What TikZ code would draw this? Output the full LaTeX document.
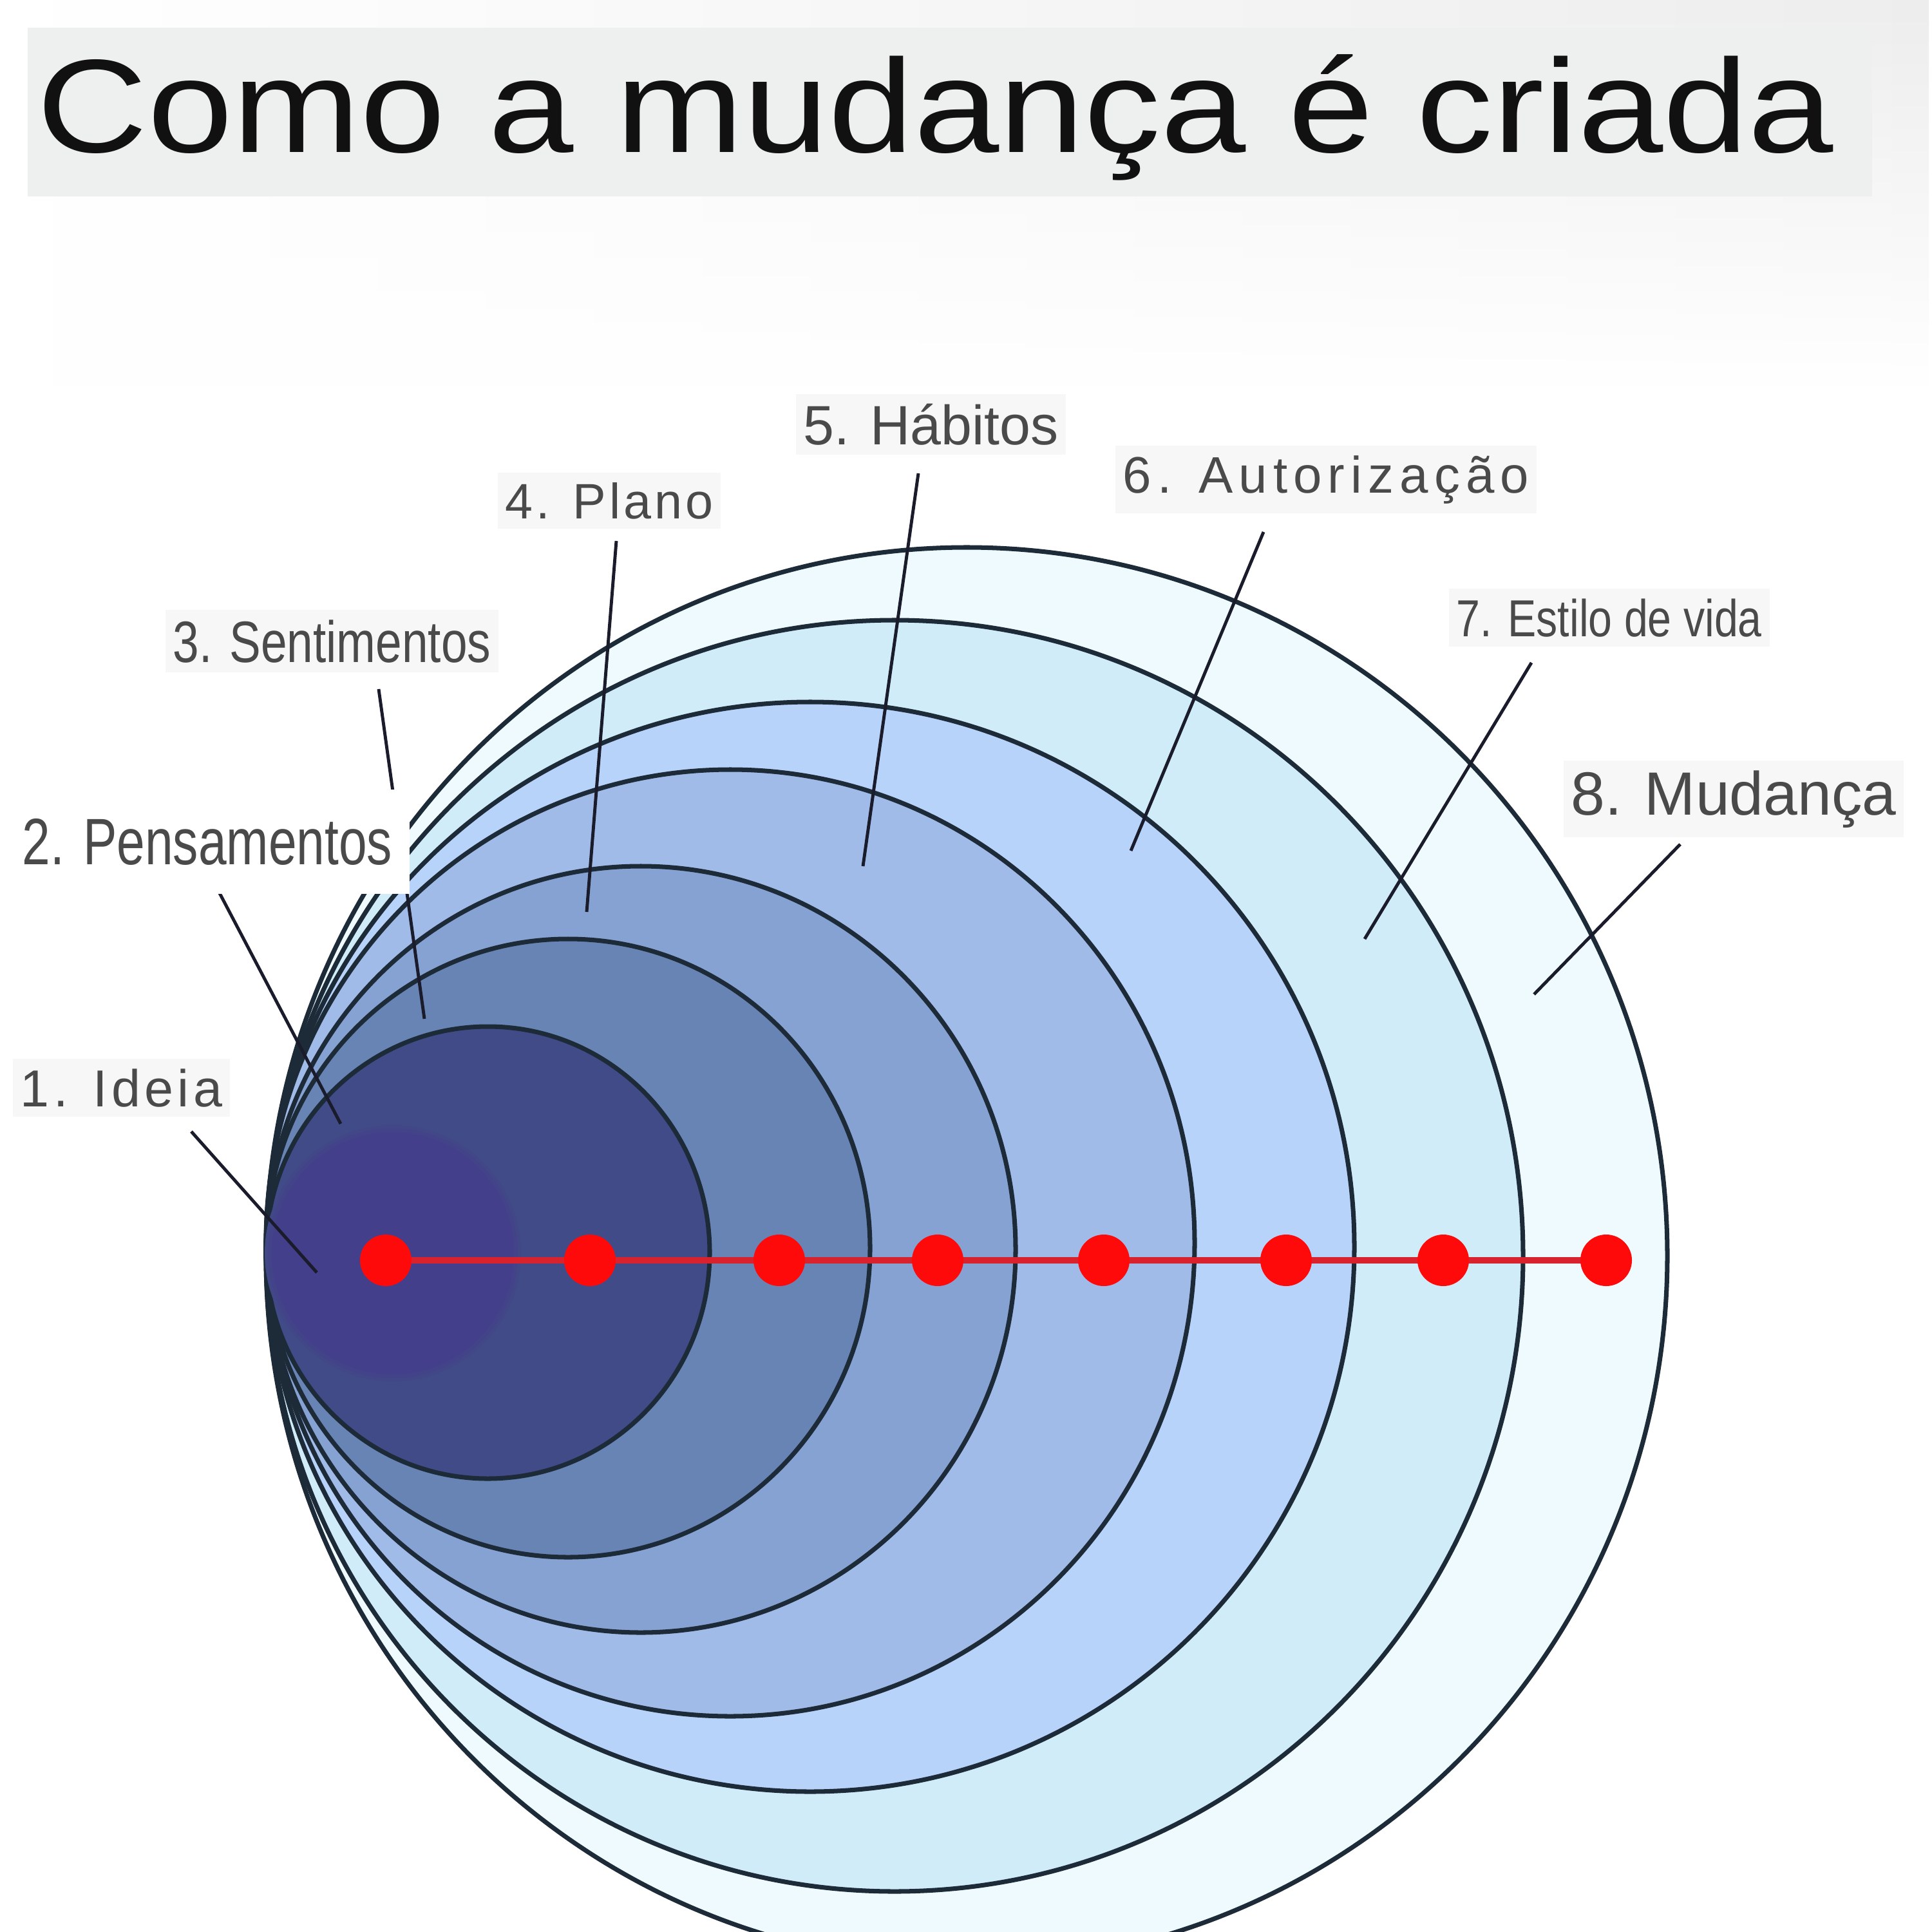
\documentclass[tikz,border=0pt]{standalone}
\usepackage{fontspec}
\setmainfont{Liberation Sans}
\usepackage{graphicx}
\usetikzlibrary{fadings}
\definecolor{cEight}{HTML}{EEFAFD}
\definecolor{cSeven}{HTML}{D0ECF9}
\definecolor{cSix}{HTML}{B8D3FA}
\definecolor{cFive}{HTML}{A1BBE9}
\definecolor{cFour}{HTML}{86A2D2}
\definecolor{cThree}{HTML}{6884B5}
\definecolor{cTwo}{HTML}{414B87}
\definecolor{cOne}{HTML}{433F8A}
\definecolor{ringline}{HTML}{1D2A38}
\definecolor{leadc}{HTML}{1A1C2C}
\definecolor{lblc}{HTML}{4A4A4A}
\definecolor{boxc}{HTML}{F7F7F7}
\definecolor{titlebg}{HTML}{EEEFEF}
\definecolor{titlec}{HTML}{111111}
\definecolor{dotred}{HTML}{FF0A0A}
\definecolor{linered}{HTML}{D8222E}
\tikzset{
  ring/.style={draw=ringline, line width=2pt},
  leader/.style={draw=leadc, line width=1.4pt},
  lbl/.style={anchor=base west, text=lblc, fill=boxc, inner xsep=0.12cm, inner ysep=0.15cm},
  dotnode/.style={circle, fill=dotred, minimum size=0.8cm, inner sep=0pt},
  redline/.style={draw=linered, line width=2.8pt},
}
\begin{document}
\begin{tikzpicture}[x=1cm,y=-1cm]
\useasboundingbox (0,0) rectangle (30,30);
\fill[white] (0,0) rectangle (30,30);
\shade[left color=white, right color=black!7, path fading=south] (0,0) rectangle (30,6);
% title
\node[fill=titlebg, minimum width=28.64cm, minimum height=2.62cm, anchor=north west, inner sep=0pt] (titlebox) at (0.42,0.42) {};
\node[anchor=base west, inner sep=0pt, text=titlec, font=\fontsize{58.7pt}{60pt}\selectfont] (title) at (0.57,2.37) {\scalebox{1.153}[1]{Como a mudança é criada}};
% circles
\path[ring, fill=cEight] (15.01,19.50) ellipse [x radius=10.88cm, y radius=11.00cm];
\path[ring, fill=cSeven] (13.89,19.50) ellipse [x radius=9.76cm, y radius=9.87cm];
\path[ring, fill=cSix] (12.58,19.36) ellipse [x radius=8.45cm, y radius=8.46cm];
\path[ring, fill=cFive] (11.34,19.30) ellipse [x radius=7.21cm, y radius=7.35cm];
\path[ring, fill=cFour] (9.95,19.40) ellipse [x radius=5.82cm, y radius=5.95cm];
\path[ring, fill=cThree] (8.82,19.38) ellipse [x radius=4.69cm, y radius=4.80cm];
\path[ring, fill=cTwo] (7.575,19.45) ellipse [x radius=3.445cm, y radius=3.51cm];
\fill[cOne!35!cTwo] (6.10,19.46) circle [radius=1.99cm];
\fill[cOne!70!cTwo] (6.10,19.46) circle [radius=1.94cm];
\fill[cOne] (6.10,19.46) circle [radius=1.88cm];
% red line and dots
\coordinate (p1) at (5.99,19.57);
\coordinate (p2) at (9.16,19.57);
\coordinate (p3) at (12.10,19.57);
\coordinate (p4) at (14.56,19.57);
\coordinate (p5) at (17.14,19.57);
\coordinate (p6) at (19.97,19.57);
\coordinate (p7) at (22.41,19.57);
\coordinate (p8) at (24.94,19.57);
\draw[redline] (p1) -- (p8);
\foreach \i in {1,...,8} { \node[dotnode] (d\i) at (p\i) {}; }
% leaders
\coordinate (a1) at (2.97,17.57); \coordinate (b1) at (4.92,19.76);
\coordinate (a2) at (3.40,13.85); \coordinate (b2) at (5.29,17.45);
\coordinate (a3) at (5.88,10.70); \coordinate (b3) at (6.59,15.82);
\coordinate (a4) at (9.57,8.40);  \coordinate (b4) at (9.11,14.16);
\coordinate (a5) at (14.26,7.35); \coordinate (b5) at (13.40,13.45);
\coordinate (a6) at (19.62,8.26); \coordinate (b6) at (17.56,13.21);
\coordinate (a7) at (23.78,10.29); \coordinate (b7) at (21.19,14.58);
\coordinate (a8) at (26.09,13.11); \coordinate (b8) at (23.82,15.44);
\foreach \i in {1,...,8} { \draw[leader] (a\i) -- (b\i); }
% labels
\node[lbl, font=\fontsize{23pt}{27pt}\selectfont] (l1) at (0.19,17.18) {\addfontfeatures{LetterSpace=8}1. Ideia};
\node[lbl, fill=white, inner xsep=0.27cm, inner ysep=0.45cm, font=\fontsize{29pt}{33pt}\selectfont] (l2) at (0.07,13.42) {\scalebox{0.77}[1]{2. Pensamentos}};
\node[lbl, font=\fontsize{25.8pt}{30pt}\selectfont] (l3) at (2.56,10.28) {\scalebox{0.805}[1]{3. Sentimentos}};
\node[lbl, font=\fontsize{22pt}{26pt}\selectfont] (l4) at (7.72,8.05) {\addfontfeatures{LetterSpace=6.5}4. Plano};
\node[lbl, font=\fontsize{24.5pt}{28pt}\selectfont] (l5) at (12.35,6.90) {5. Hábitos};
\node[lbl, font=\fontsize{22.7pt}{27pt}\selectfont] (l6) at (17.31,7.65) {\addfontfeatures{LetterSpace=11.5}6. Autorização};
\node[lbl, font=\fontsize{23pt}{27pt}\selectfont] (l7) at (22.49,9.88) {\scalebox{0.82}[1]{7. Estilo de vida}};
\node[lbl, font=\fontsize{27pt}{31pt}\selectfont] (l8) at (24.27,12.65) {8. Mudança};
\end{tikzpicture}
\end{document}
